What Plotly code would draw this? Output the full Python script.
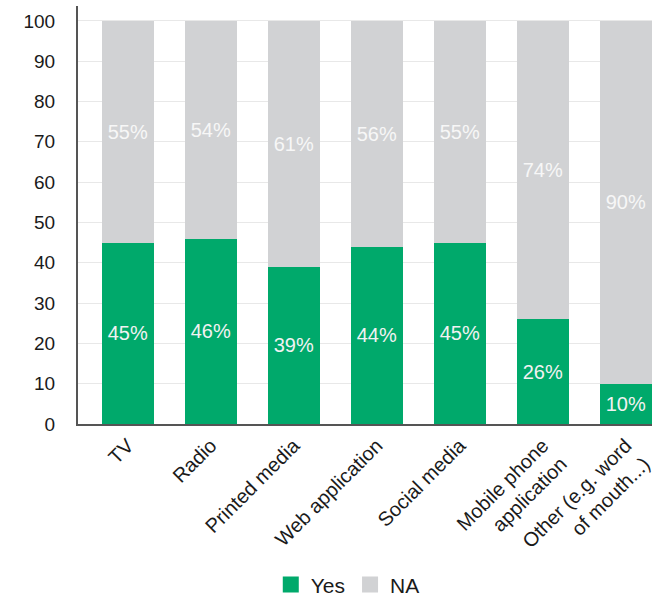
import plotly.graph_objects as go

categories = ["TV", "Radio", "Printed media", "Web application", "Social media",
              "Mobile phone<br>application", "Other (e.g. word<br>of mouth...)"]
yes_values = [45, 46, 39, 44, 45, 26, 10]
na_values = [55, 54, 61, 56, 55, 74, 90]
y_ticks = [0, 10, 20, 30, 40, 50, 60, 70, 80, 90, 100]

GREEN = "#00A96B"
GREY = "#D1D2D4"
FONT = "Liberation Sans, Arial, sans-serif"

x_idx = list(range(len(categories)))

fig = go.Figure()
fig.add_trace(go.Bar(
    x=x_idx, y=yes_values, name="Yes", marker=dict(color=GREEN, line=dict(width=0)),
    text=[f"{v}%" for v in yes_values], textposition="inside",
    insidetextanchor="middle", textangle=0, showlegend=False,
    textfont=dict(family=FONT, size=20, color="#F2F2F2"),
))
fig.add_trace(go.Bar(
    x=x_idx, y=na_values, name="NA", marker=dict(color=GREY, line=dict(width=0)),
    text=[f"{v}%" for v in na_values], textposition="inside",
    insidetextanchor="middle", textangle=0, showlegend=False,
    textfont=dict(family=FONT, size=20, color="#F7F7F7"),
))

# legend entries with larger square swatches
for name, color in [("Yes", GREEN), ("NA", GREY)]:
    fig.add_trace(go.Scatter(
        x=[None], y=[None], mode="markers", name=name,
        marker=dict(symbol="square", size=17, color=color),
    ))

fig.update_layout(
    barmode="stack",
    bargap=0.37,
    width=652, height=598,
    margin=dict(l=78, r=0, t=6, b=174, autoexpand=False),
    paper_bgcolor="white", plot_bgcolor="white",
    font=dict(family=FONT, size=19, color="#1a1a1a"),
    uniformtext=dict(minsize=10, mode="show"),
    showlegend=True,
    legend=dict(orientation="h", x=0.47, xanchor="center",
                yref="container", y=0.022, yanchor="middle",
                font=dict(family=FONT, size=21, color="#1a1a1a"),
                itemwidth=30, traceorder="normal"),
    xaxis=dict(
        tickmode="array", tickvals=x_idx, ticktext=categories,
        range=[-0.6, 6.316], tickangle=-45, automargin=False,
        ticklabeloverflow="allow",
        showline=True, linecolor="#555555", linewidth=2,
        showgrid=False, ticks="", zeroline=False,
        tickfont=dict(family=FONT, size=20, color="#1a1a1a"),
    ),
    yaxis=dict(
        range=[0, 103.7], tickvals=y_ticks, automargin=False,
        showline=True, linecolor="#555555", linewidth=2,
        gridcolor="#E8E8E8", gridwidth=1, zeroline=False, ticks="",
        ticklabelstandoff=17,
        tickfont=dict(family=FONT, size=19, color="#1a1a1a"),
    ),
)

fig.write_html("out.html")
